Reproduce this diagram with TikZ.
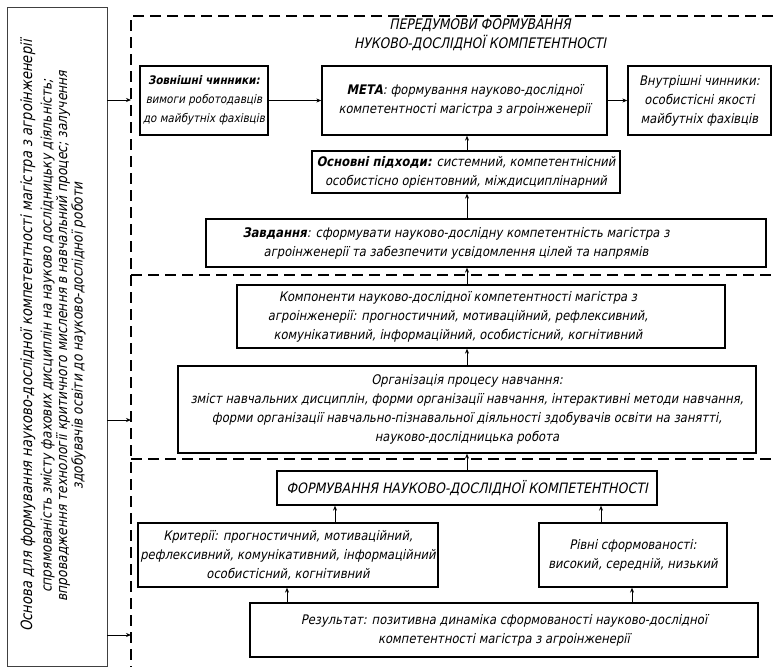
\documentclass[tikz,border=0pt]{standalone}
\usepackage{fontspec}
\setmainfont{DejaVu Sans}[FakeSlant=0.2, FakeStretch=0.88]
\newfontfamily\shyrokyi{DejaVu Sans}[FakeSlant=0.2, FakeStretch=0.85]
\usetikzlibrary{arrows.meta,positioning}

\begin{document}
\begin{tikzpicture}[x=1pt, y=-1pt,
    blok/.style={draw, line width=1.3pt, align=center, inner sep=2pt, font=\fontsize{13.2}{19}\selectfont},
    strilka/.style={-{Stealth[length=5pt, width=4pt]}, line width=0.8pt},
    rozdil/.style={line width=1.3pt, dash pattern=on 11pt off 6pt}
  ]
  \useasboundingbox (0,0) rectangle (777,667);

  % ліва колонка
  \node[draw=black!75, line width=0.8pt, minimum width=100pt, minimum height=659pt] (osnova) at (57,336.5) {};
  \node[rotate=90, align=center, font=\shyrokyi\fontsize{14.5}{15.5}\selectfont] (osnovatext) at (53,336) {{\fontsize{15.5}{15.5}\selectfont Основа для формування науково-дослідної компетентності магістра з агроінженерії}\\[4pt]
    спрямованість змісту фахових дисциплін на науково дослідницьку діяльність;\\
    впровадження технології критичного мислення в навчальний процес; залучення\\
    здобувачів освіти до науково-дослідної роботи};

  % рамка з розділами
  \coordinate (ramka) at (131,16);
  \draw[rozdil] (790,16) -- (ramka) -- (131,680);
  \draw[rozdil] (131,275) -- (790,275);
  \draw[rozdil] (131,459) -- (790,459);
  \coordinate (vkhid1) at (131,100);
  \coordinate (vkhid2) at (131,420);
  \coordinate (vkhid3) at (131,635);

  \node[align=center, font=\shyrokyi\fontsize{14.5}{19}\selectfont] (nazva) at (480,35) {ПЕРЕДУМОВИ ФОРМУВАННЯ\\НУКОВО-ДОСЛІДНОЇ КОМПЕТЕНТНОСТІ};

  \node[blok, minimum width=128pt, minimum height=69pt, font=\fontsize{11.8}{19}\selectfont] (zovn) at (204,100.5) {\textbf{Зовнішні чинники:}\\вимоги роботодавців\\до майбутніх фахівців};
  \node[blok, minimum width=285pt, minimum height=69pt] (meta) at (464.5,100.5) {\textbf{МЕТА}: формування науково-дослідної\\компетентності магістра з агроінженерії};
  \node[blok, minimum width=143pt, minimum height=69pt] (vnutr) at (699.5,100.5) {Внутрішні чинники:\\особистісні якості\\майбутніх фахівців};
  \node[blok, minimum width=308pt, minimum height=42pt] (pidkh) at (466,172) {\textbf{Основні підходи:} системний, компетентнісний\\особистісно орієнтовний, міждисциплінарний};
  \node[blok, minimum width=560pt, minimum height=48pt] (zavd) at (486,243) {\begin{tabular}{@{}c@{}}\textbf{Завдання}: сформувати науково-дослідну компетентність магістра з\\агроінженерії та забезпечити усвідомлення цілей та напрямів\end{tabular}\hspace*{60pt}};

  \node[blok, minimum width=488pt, minimum height=63pt] (komp) at (481,316.5) {\begin{tabular}{@{}c@{}}Компоненти науково-дослідної компетентності магістра з\\агроінженерії: прогностичний, мотиваційний, рефлексивний,\\комунікативний, інформаційний, особистісний, когнітивний\end{tabular}\hspace*{46pt}};
  \node[blok, minimum width=578pt, minimum height=87pt] (org) at (467,409.5) {Організація процесу навчання:\\зміст навчальних дисциплін, форми організації навчання, інтерактивні методи навчання,\\форми організації навчально-пізнавальної діяльності здобувачів освіти на занятті,\\науково-дослідницька робота};

  \node[blok, minimum width=380pt, minimum height=34pt, font=\fontsize{14.3}{19}\selectfont] (form) at (467,488) {ФОРМУВАННЯ НАУКОВО-ДОСЛІДНОЇ КОМПЕТЕНТНОСТІ};
  \node[blok, minimum width=300pt, minimum height=64pt] (kryt) at (288,555) {Критерії: прогностичний, мотиваційний,\\рефлексивний, комунікативний, інформаційний\\особистісний, когнітивний};
  \node[blok, minimum width=188pt, minimum height=64pt] (rivni) at (633,555) {Рівні сформованості:\\високий, середній, низький};
  \node[blok, minimum width=508pt, minimum height=54pt] (rez) at (504,630) {Результат: позитивна динаміка сформованості науково-дослідної\\компетентності магістра з агроінженерії};

  % зв'язки
  \draw[strilka] (osnova.east |- vkhid1) -- (vkhid1);
  \draw[strilka] (osnova.east |- vkhid2) -- (vkhid2);
  \draw[strilka] (osnova.east |- vkhid3) -- (vkhid3);
  \draw[strilka] (zovn) -- (meta);
  \draw[strilka] (meta) -- (vnutr);
  \coordinate (vis) at (467,0);
  \draw[strilka] (vis |- pidkh.north) -- (vis |- meta.south);
  \draw[strilka] (vis |- zavd.north) -- (vis |- pidkh.south);
  \draw[strilka] (vis |- komp.north) -- (vis |- zavd.south);
  \draw[strilka] (vis |- org.north) -- (vis |- komp.south);
  \draw[strilka] (vis |- form.north) -- (vis |- org.south);
  \coordinate (k1) at (335,0);
  \coordinate (k2) at (601,0);
  \coordinate (k3) at (287,0);
  \coordinate (k4) at (632,0);
  \draw[strilka] (k1 |- kryt.north) -- (k1 |- form.south);
  \draw[strilka] (k2 |- rivni.north) -- (k2 |- form.south);
  \draw[strilka] (k3 |- rez.north) -- (k3 |- kryt.south);
  \draw[strilka] (k4 |- rez.north) -- (k4 |- rivni.south);
\end{tikzpicture}
\end{document}
